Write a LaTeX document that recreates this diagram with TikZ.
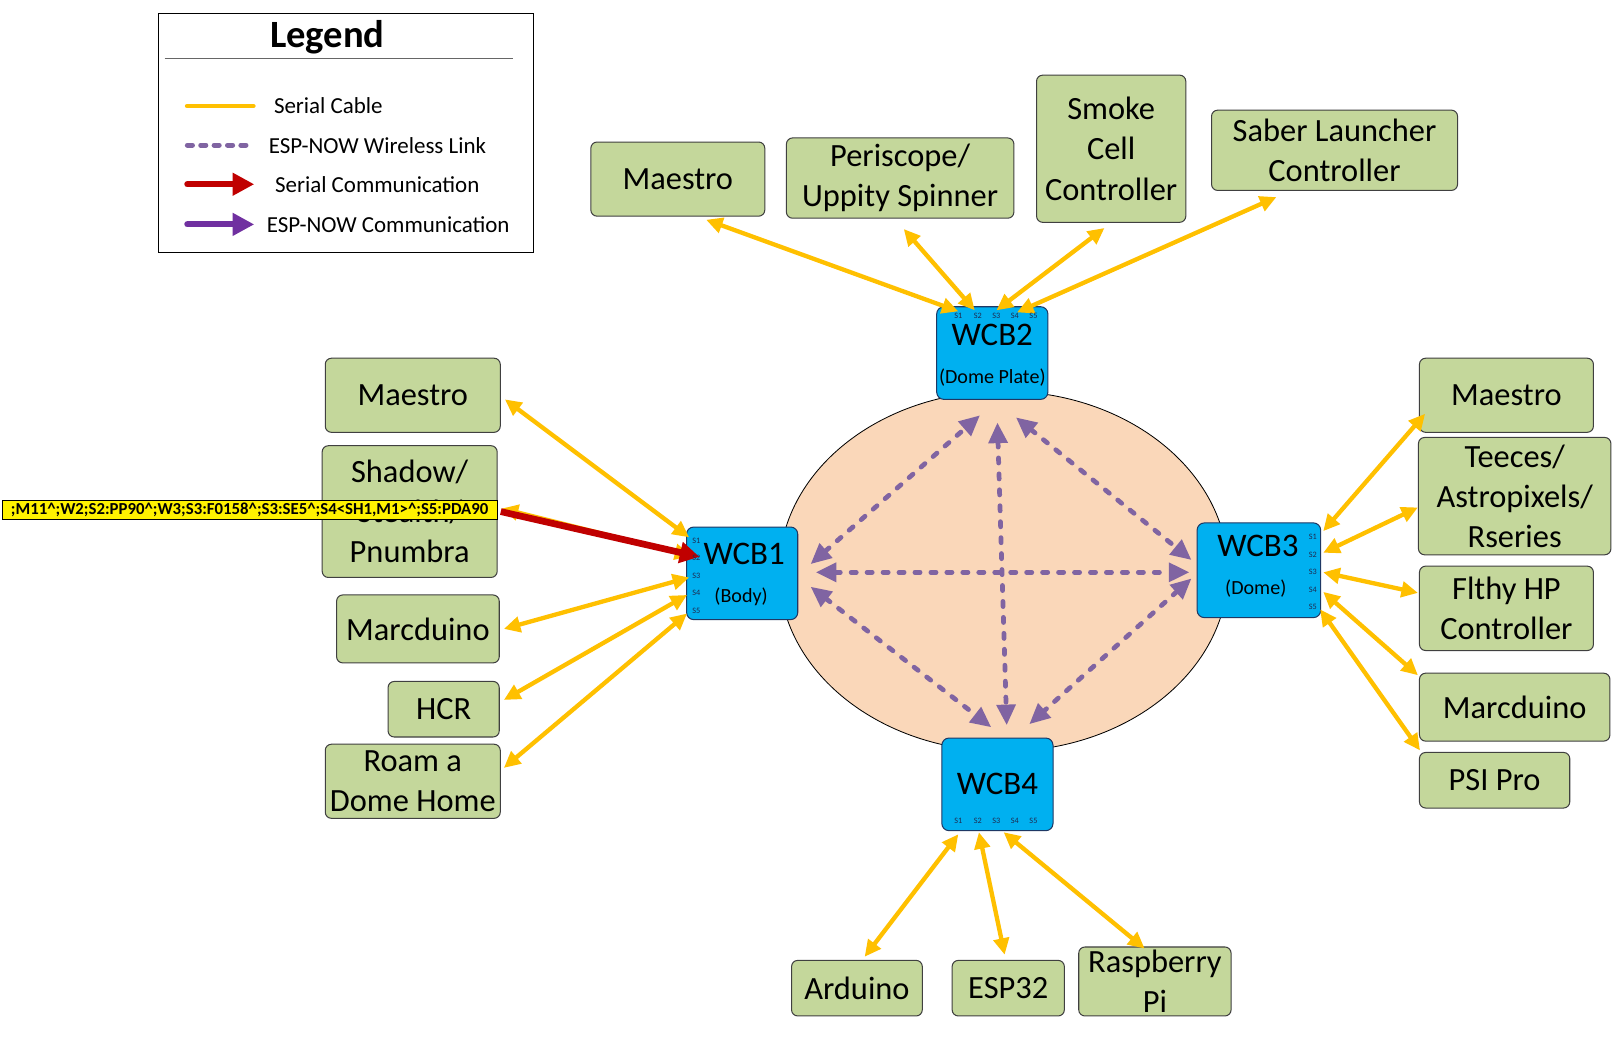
\documentclass[tikz,border=0pt]{standalone}
\usepackage{fontspec}
\setmainfont{Carlito}
\usetikzlibrary{arrows.meta,shapes.geometric}
\definecolor{gfill}{HTML}{C4D79B}
\definecolor{gline}{HTML}{404040}
\definecolor{wfill}{HTML}{00B0F0}
\definecolor{wline}{HTML}{1F3864}
\definecolor{peach}{HTML}{FAD7B9}
\definecolor{cable}{HTML}{FFC000}
\definecolor{espd}{HTML}{8064A2}
\definecolor{espc}{HTML}{7030A0}
\definecolor{serc}{HTML}{C00000}
\definecolor{portc}{HTML}{1F2A50}
\begin{document}
\begin{tikzpicture}[x=1pt,y=1pt,
 gbox/.style={draw=gline, fill=gfill, line width=1pt, rounded corners=6pt, align=center, inner sep=0pt, font=\fontsize{31.5}{39}\selectfont},
 wbox/.style={draw=wline, fill=wfill, line width=1pt, rounded corners=7pt, inner sep=0pt},
 wname/.style={font=\fontsize{32}{36}\selectfont, inner sep=0pt},
 wsub/.style={font=\fontsize{19.5}{21}\selectfont, inner sep=0pt},
 port/.style={font=\fontsize{8}{9}\selectfont, inner sep=0pt, text=portc},
 cablearrow/.style={draw=cable, line width=4.2pt, {Triangle[length=16pt,width=15pt]}-{Triangle[length=16pt,width=15pt]}},
 espline/.style={draw=espd, line width=4.6pt, line cap=round, dash pattern=on 5pt off 10.5pt, {Triangle[length=20pt,width=18pt]}-{Triangle[length=20pt,width=18pt]}},
 serarrow/.style={draw=serc, line width=6.5pt, -{Triangle[length=19pt,width=20pt]}},
 legtext/.style={font=\fontsize{22.3}{25}\selectfont, anchor=west, inner sep=0pt}
]
\fill[white] (0,0) rectangle (1568,-1008);
\useasboundingbox (0,0) rectangle (1568,-1008);

% ---------- Legend ----------
\node[draw=black, line width=1pt, minimum width=364pt, minimum height=232pt, inner sep=0pt] (legbox) at (336,-129) {};
\node[font=\bfseries\fontsize{37.5}{40}\selectfont, inner sep=0pt] (legtitle) at (318,-36) {Legend};
\coordinate (lr1) at (160,-57); \coordinate (lr2) at (498,-57);
\draw[gray!80!black, line width=1.2pt] (lr1) -- (lr2);
\coordinate (l1a) at (182,-103); \coordinate (l1b) at (246,-103);
\draw[cable, line width=4.8pt, line cap=round] (l1a) -- (l1b);
\node[legtext] (l1t) at (266,-103) {Serial Cable};
\coordinate (l2a) at (182,-141); \coordinate (l2b) at (245,-141);
\draw[espd, line width=4.8pt, line cap=round, dash pattern=on 5pt off 8pt] (l2a) -- (l2b);
\node[legtext] (l2t) at (261,-141) {ESP-NOW Wireless Link};
\coordinate (l3a) at (182,-179); \coordinate (l3b) at (247,-179);
\draw[serc, line width=6pt, line cap=round, -{Triangle[length=21pt,width=21pt]}] (l3a) -- (l3b);
\node[legtext] (l3t) at (267,-179) {Serial Communication};
\coordinate (l4a) at (182,-218); \coordinate (l4b) at (247,-218);
\draw[espc, line width=6pt, line cap=round, -{Triangle[length=21pt,width=21pt]}] (l4a) -- (l4b);
\node[legtext] (l4t) at (259,-218) {ESP-NOW Communication};

% ---------- Ring ----------
\node[ellipse, draw=black, line width=0.8pt, fill=peach, minimum width=436pt, minimum height=350pt, inner sep=0pt] (ring) at (975,-555) {};

% ---------- WCB boards ----------
\node[wbox, minimum width=108pt, minimum height=90pt] (w2) at (964,-343) {};
\node[wbox, minimum width=108pt, minimum height=90pt] (w1) at (721,-557) {};
\node[wbox, minimum width=120pt, minimum height=92pt] (w3) at (1223,-554) {};
\node[wbox, minimum width=108pt, minimum height=90pt] (w4) at (969,-762) {};
\node[wname] (w2n) at (964,-325) {WCB2};
\node[wsub] (w2s) at (964,-367) {(Dome Plate)};
\node[wname] (w1n) at (723,-538) {WCB1};
\node[wsub] (w1s) at (720,-580) {(Body)};
\node[wname] (w3n) at (1222,-530) {WCB3};
\node[wsub] (w3s) at (1220,-572) {(Dome)};
\node[wname] (w4n) at (969,-762) {WCB4};

% ---------- ESP-NOW links ----------
\draw[espline] ([xshift=12pt,yshift=9pt]w1.east) -- ([xshift=-12pt,yshift=-15pt]w2.south);
\draw[espline] ([xshift=23pt,yshift=-17pt]w2.south) -- ([xshift=-5pt,yshift=10pt]w3.west);
\draw[espline] ([xshift=5pt,yshift=-22pt]w2.south) -- ([xshift=9pt,yshift=12pt]w4.north);
\draw[espline] ([xshift=17pt,yshift=1pt]w1.east) -- ([xshift=-7pt,yshift=-2pt]w3.west);
\draw[espline] ([xshift=12pt,yshift=-13pt]w1.east) -- ([xshift=-6pt,yshift=10pt]w4.north);
\draw[espline] ([xshift=-5pt,yshift=-8pt]w3.west) -- ([xshift=31pt,yshift=13pt]w4.north);

% ---------- Devices ----------
\node[gbox, minimum width=169pt, minimum height=72pt] (mT) at (658.5,-174) {Maestro};
\node[gbox, minimum width=221pt, minimum height=78pt] (pT) at (874.5,-173) {Periscope/\\Uppity Spinner};
\node[gbox, minimum width=145pt, minimum height=143pt] (sT) at (1079.5,-144.5) {Smoke\\Cell\\Controller};
\node[gbox, minimum width=239pt, minimum height=78pt] (lT) at (1296.5,-146) {Saber Launcher\\Controller};

\node[gbox, minimum width=170pt, minimum height=72pt] (mL) at (401,-384) {Maestro};
\node[gbox, minimum width=170pt, minimum height=128pt] (shL) at (398,-497) {Shadow/\\Stealth/\\Pnumbra};
\node[gbox, minimum width=158pt, minimum height=66pt] (mdL) at (406,-611) {Marcduino};
\node[gbox, minimum width=108pt, minimum height=54pt] (hL) at (431,-689) {HCR};
\node[gbox, minimum width=170pt, minimum height=72pt] (rL) at (401,-759) {Roam a\\Dome Home};

\node[gbox, minimum width=169pt, minimum height=72pt] (mR) at (1463.5,-384) {Maestro};
\node[gbox, minimum width=187pt, minimum height=114pt] (tR) at (1471.5,-482) {Teeces/\\Astropixels/\\Rseries};
\node[gbox, minimum width=169pt, minimum height=82pt] (fR) at (1463.5,-591) {Flthy HP\\Controller};
\node[gbox, minimum width=185pt, minimum height=66pt] (mdR) at (1471.5,-687) {Marcduino};
\node[gbox, minimum width=146pt, minimum height=54pt] (pR) at (1452,-758) {PSI Pro};

\node[gbox, minimum width=127pt, minimum height=54pt] (aB) at (832.5,-960) {Arduino};
\node[gbox, minimum width=109pt, minimum height=54pt] (eB) at (979.5,-960) {ESP32};
\node[gbox, minimum width=148pt, minimum height=67pt] (rB) at (1122,-953.5) {Raspberry\\Pi};

% ---------- Port end points ----------
\coordinate (w2c1) at ([xshift=-33pt,yshift=-5pt]w2.north);
\coordinate (w2c2) at ([xshift=-17pt,yshift=-4pt]w2.north);
\coordinate (w2c3) at ([xshift=4pt,yshift=-4pt]w2.north);
\coordinate (w2c4) at ([xshift=24pt,yshift=-6pt]w2.north);
\coordinate (w1c1) at ([xshift=3pt,yshift=35pt]w1.west);
\coordinate (w1c2) at ([xshift=5pt,yshift=17pt]w1.west);
\coordinate (w1r2) at ([xshift=13pt,yshift=16pt]w1.west);
\coordinate (w1c3) at ([xshift=3pt,yshift=-4pt]w1.west);
\coordinate (w1c4) at ([xshift=1pt,yshift=-21pt]w1.west);
\coordinate (w1c5) at ([xshift=1pt,yshift=-39pt]w1.west);
\coordinate (w3c1) at ([xshift=2pt,yshift=38pt]w3.east);
\coordinate (w3c2) at ([xshift=2pt,yshift=17pt]w3.east);
\coordinate (w3c3) at ([xshift=2pt,yshift=-2pt]w3.east);
\coordinate (w3c4) at ([xshift=2pt,yshift=-21pt]w3.east);
\coordinate (w3c5) at ([xshift=-1pt,yshift=-38pt]w3.east);
\coordinate (w4c1) at ([xshift=-38pt,yshift=-3pt]w4.south);
\coordinate (w4c2) at ([xshift=-18pt,yshift=-1pt]w4.south);
\coordinate (w4c3) at ([xshift=6pt,yshift=-1pt]w4.south);

% ---------- Serial cables ----------
\draw[cablearrow] ([xshift=27.5pt,yshift=-3pt]mT.south) -- (w2c1);
\draw[cablearrow] ([xshift=3.5pt,yshift=-10pt]pT.south) -- (w2c2);
\draw[cablearrow] ([xshift=-6.5pt,yshift=-5pt]sT.south) -- (w2c3);
\draw[cablearrow] ([xshift=-56.5pt,yshift=-6pt]lT.south) -- (w2c4);

\draw[cablearrow] ([xshift=4pt,yshift=-4pt]mL.east) -- (w1c1);
\draw[cablearrow] ([xshift=4pt,yshift=3pt]shL.east) -- (w1c2);
\draw[cablearrow] ([xshift=4pt]mdL.east) -- (w1c3);
\draw[cablearrow] ([xshift=4pt,yshift=9pt]hL.east) -- (w1c4);
\draw[cablearrow] ([xshift=3pt,yshift=13pt]rL.east) -- (w1c5);

\draw[cablearrow] ([xshift=6pt,yshift=-18pt]mR.west) -- (w3c1);
\draw[cablearrow] ([yshift=-11pt]tR.west) -- (w3c2);
\draw[cablearrow] ([xshift=-1pt,yshift=15pt]fR.west) -- (w3c3);
\draw[cablearrow] ([xshift=-1pt,yshift=31pt]mdR.west) -- (w3c4);
\draw[cablearrow] ([xshift=1pt,yshift=29pt]pR.west) -- (w3c5);

\draw[cablearrow] ([xshift=7.5pt,yshift=3pt]aB.north) -- (w4c1);
\draw[cablearrow] ([xshift=-3.5pt,yshift=5pt]eB.north) -- (w4c2);
\draw[cablearrow] ([xshift=-10pt,yshift=-2pt]rB.north) -- (w4c3);

% ---------- Serial communication ----------
\draw[serarrow] ([xshift=3pt]shL.east) -- (w1r2);

% ---------- Command string ----------
\node[draw=black, fill=yellow, line width=1pt, minimum width=481pt, minimum height=19pt, inner sep=0pt, font=\bfseries\fontsize{16.3}{17}\selectfont] (cmd) at (242.5,-495.5) {;M11\textasciicircum;W2;S2:PP90\textasciicircum;W3;S3:F0158\textasciicircum;S3:SE5\textasciicircum;S4<SH1,M1>\textasciicircum;S5:PDA90};

% ---------- Port labels ----------
\foreach \i/\d in {1/-33,2/-14,3/4,4/22,5/40}
  \node[port] (w2p\i) at ([xshift=\d pt,yshift=-9pt]w2.north) {S\i};
\foreach \i/\d in {1/32,2/15,3/-2,4/-19,5/-36}
  \node[port] (w1p\i) at ([xshift=10pt,yshift=\d pt]w1.west) {S\i};
\foreach \i/\d in {1/32,2/15,3/-2,4/-19,5/-36}
  \node[port] (w3p\i) at ([xshift=-8pt,yshift=\d pt]w3.east) {S\i};
\foreach \i/\d in {1/-38,2/-19,3/-1,4/17,5/35}
  \node[port] (w4p\i) at ([xshift=\d pt,yshift=10pt]w4.south) {S\i};
\end{tikzpicture}
\end{document}
